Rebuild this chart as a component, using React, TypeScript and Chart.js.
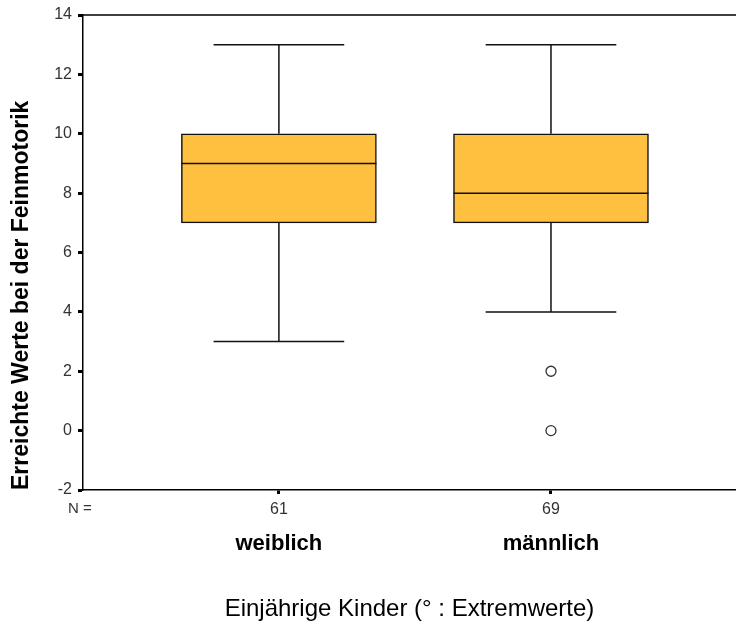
import React, { useEffect, useRef } from "react";
import { Chart, registerables } from "chart.js";

Chart.register(...registerables);

const categories = ["weiblich", "männlich"];
const counts = ["61", "69"];
const mins = [3, 4];
const q1s = [7, 7];
const medians = [9, 8];
const q3s = [10, 10];
const maxs = [13, 13];
const outliers: number[][] = [[], [2, 0]];
const yTicks = [-2, 0, 2, 4, 6, 8, 10, 12, 14];

const FONT = "'Liberation Sans', Arial, sans-serif";
const BOX_PX = 195;
const CAP_FRAC = 0.67;

const boxPlugin = {
  id: "boxWhiskers",
  afterDatasetsDraw(chart: any) {
    const { ctx, scales, chartArea } = chart;
    const x = scales.x;
    const y = scales.y;
    ctx.save();
    ctx.strokeStyle = "#111";
    ctx.lineWidth = 1.5;
    categories.forEach((_, i) => {
      const cx = x.getPixelForValue(i + 1);
      const half = BOX_PX / 2;
      const cap = (BOX_PX * CAP_FRAC) / 2;
      const pMin = y.getPixelForValue(mins[i]);
      const pMax = y.getPixelForValue(maxs[i]);
      const pQ1 = y.getPixelForValue(q1s[i]);
      const pQ3 = y.getPixelForValue(q3s[i]);
      const pMed = y.getPixelForValue(medians[i]);
      ctx.beginPath();
      ctx.moveTo(cx, pQ3);
      ctx.lineTo(cx, pMax);
      ctx.moveTo(cx - cap, pMax);
      ctx.lineTo(cx + cap, pMax);
      ctx.moveTo(cx, pQ1);
      ctx.lineTo(cx, pMin);
      ctx.moveTo(cx - cap, pMin);
      ctx.lineTo(cx + cap, pMin);
      ctx.moveTo(cx - half, pMed);
      ctx.lineTo(cx + half, pMed);
      ctx.stroke();
    });
    // top frame line
    ctx.beginPath();
    ctx.strokeStyle = "#000";
    ctx.lineWidth = 1.5;
    ctx.moveTo(chartArea.left, chartArea.top);
    ctx.lineTo(chart.width, chartArea.top);
    ctx.stroke();
    // N = label
    ctx.fillStyle = "#333";
    ctx.font = `15px ${FONT}`;
    ctx.textAlign = "center";
    ctx.textBaseline = "middle";
    ctx.fillText("N =", chartArea.left - 3, chartArea.bottom + 19);
    ctx.restore();
  },
};

export default function App() {
  const ref = useRef<HTMLCanvasElement | null>(null);
  useEffect(() => {
    document.body.style.margin = "0";
    if (!ref.current) return;
    const boxData = categories.map((_, i) => ({ x: i + 1, y: [q1s[i], q3s[i]] }));
    const outData: { x: number; y: number }[] = [];
    outliers.forEach((arr, i) => arr.forEach((v) => outData.push({ x: i + 1, y: v })));
    const chart = new Chart(ref.current, {
      type: "bar",
      data: {
        datasets: [
          {
            type: "bar",
            data: boxData as any,
            backgroundColor: "#FFC040",
            borderColor: "#111",
            borderWidth: 1.5,
            borderSkipped: false,
            barThickness: BOX_PX,
          } as any,
          {
            type: "scatter",
            data: outData as any,
            pointRadius: 5,
            pointBackgroundColor: "#fff",
            pointBorderColor: "#333",
            pointBorderWidth: 1.3,
          } as any,
        ],
      },
      plugins: [boxPlugin],
      options: {
        animation: false,
        responsive: false,
        layout: { autoPadding: false, padding: { left: 0, right: 0, top: 15, bottom: 0 } },
        plugins: { legend: { display: false }, tooltip: { enabled: false } },
        scales: {
          x: {
            type: "linear",
            position: "bottom",
            weight: 1,
            offset: false,
            min: 0.28,
            max: 2.68,
            afterBuildTicks: (s: any) => {
              s.ticks = categories.map((_, i) => ({ value: i + 1 }));
            },
            afterFit: (s: any) => {
              s.height = 35;
              s.paddingLeft = 0;
              s.paddingRight = 0;
            },
            ticks: {
              callback: (v: any) => counts[Number(v) - 1] ?? "",
              font: { family: FONT, size: 16 },
              color: "#333",
              padding: 6,
              maxRotation: 0,
            },
            grid: {
              offset: false,
              drawOnChartArea: false,
              drawTicks: true,
              tickLength: 4,
              tickWidth: 3,
              tickColor: "#000",
            },
            border: { display: true, color: "#000", width: 1.5 },
          },
          x2: {
            type: "linear",
            position: "bottom",
            weight: 2,
            offset: false,
            min: 0.28,
            max: 2.68,
            afterBuildTicks: (s: any) => {
              s.ticks = categories.map((_, i) => ({ value: i + 1 }));
            },
            afterFit: (s: any) => {
              s.height = 100;
              s.paddingLeft = 0;
              s.paddingRight = 0;
            },
            ticks: {
              callback: (v: any) => categories[Number(v) - 1] ?? "",
              font: { family: FONT, size: 22, weight: "bold" },
              color: "#000",
              padding: 6,
              maxRotation: 0,
            },
            grid: { display: false, drawTicks: false, offset: false },
            border: { display: false },
            title: {
              display: true,
              text: "Einjährige Kinder (° : Extremwerte)",
              font: { family: FONT, size: 24 },
              color: "#000",
              padding: { top: 0, bottom: 1 },
            },
          },
          y: {
            type: "linear",
            position: "left",
            min: -2,
            max: 14,
            afterBuildTicks: (s: any) => {
              s.ticks = yTicks.map((v) => ({ value: v }));
            },
            afterFit: (s: any) => {
              s.width = 83;
              s.paddingTop = 0;
              s.paddingBottom = 0;
            },
            ticks: {
              font: { family: FONT, size: 16 },
              color: "#333",
              padding: 6,
            },
            grid: {
              drawOnChartArea: false,
              drawTicks: true,
              tickLength: 5,
              tickWidth: 3,
              tickColor: "#000",
            },
            border: { display: true, color: "#000", width: 1.5 },
            title: {
              display: true,
              text: "Erreichte Werte bei der Feinmotorik",
              align: "start",
              font: { family: FONT, size: 23, weight: "bold" },
              color: "#000",
              padding: { top: 8, bottom: 0 },
            },
          },
        },
      } as any,
    });
    return () => chart.destroy();
  }, []);
  return (
    <canvas
      ref={ref}
      width={736}
      height={625}
      style={{ display: "block", width: 736, height: 625 }}
    />
  );
}
